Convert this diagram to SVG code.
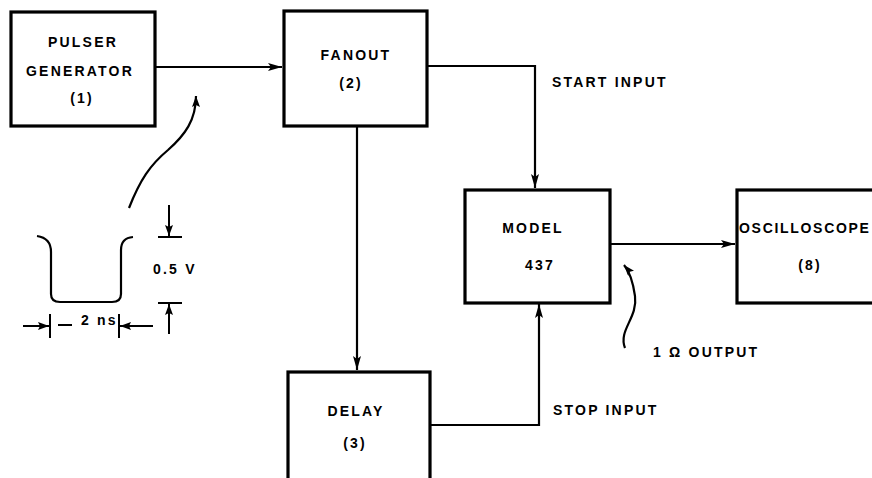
<svg xmlns="http://www.w3.org/2000/svg" width="872" height="478" viewBox="0 0 872 478">
<style>
.box{fill:#fff;stroke:#000;stroke-width:3.2}
.t{font-family:"Liberation Sans",Arial,sans-serif;font-weight:bold;font-size:14px;letter-spacing:2.2px;fill:#000}
.c{text-anchor:middle}
.ln{fill:none;stroke:#000;stroke-width:2.2}
.thin{fill:none;stroke:#000;stroke-width:2}
</style>
<defs>
<marker id="ah" viewBox="0 0 14 8" refX="14" refY="4" markerWidth="14" markerHeight="8" markerUnits="userSpaceOnUse" orient="auto">
<path d="M0,0 L14,4 L0,8 L3,4 Z" fill="#000"/>
</marker>
<marker id="ahs" viewBox="0 0 11 8" refX="11" refY="4" markerWidth="11" markerHeight="8" markerUnits="userSpaceOnUse" orient="auto">
<path d="M0,0 L11,4 L0,8 L2,4 Z" fill="#000"/>
</marker>
</defs>
<rect width="872" height="478" fill="#fff"/>
<g id="connectors">
<path class="ln" d="M155,67 L282,67" marker-end="url(#ah)"/>
<path class="ln" d="M427,66 L535,66 L535,188" marker-end="url(#ah)"/>
<path class="ln" d="M357,126 L357,370" marker-end="url(#ah)"/>
<path class="ln" d="M430,425 L539,425 L539,304" marker-end="url(#ah)"/>
<path class="ln" d="M610,244 L735,244" marker-end="url(#ah)"/>
</g>
<g id="pulser">
<rect class="box" x="11" y="12" width="144" height="114"/>
<text class="t c" x="83" y="47">PULSER</text>
<text class="t c" x="80" y="76">GENERATOR</text>
<text class="t c" x="82" y="103">(1)</text>
</g>
<g id="fanout">
<rect class="box" x="284" y="11" width="143" height="115"/>
<text class="t c" x="356" y="60">FANOUT</text>
<text class="t c" x="351" y="88">(2)</text>
</g>
<g id="model">
<rect class="box" x="465" y="190" width="145" height="113"/>
<text class="t c" x="533" y="233">MODEL</text>
<text class="t c" x="540" y="270">437</text>
</g>
<g id="oscilloscope">
<rect class="box" x="737" y="190" width="145" height="113"/>
<text class="t" x="739" y="233" style="letter-spacing:1.7px">OSCILLOSCOPE</text>
<text class="t c" x="810" y="270">(8)</text>
</g>
<g id="delay">
<rect class="box" x="288" y="372" width="142" height="120"/>
<text class="t c" x="356" y="416">DELAY</text>
<text class="t c" x="355" y="448">(3)</text>
</g>
<g id="labels">
<text class="t" x="552" y="87">START  INPUT</text>
<text class="t" x="553" y="415">STOP  INPUT</text>
<text class="t" x="653" y="357">1 Ω OUTPUT</text>
</g>
<g id="waveform">
<path class="ln" d="M37,236 Q51,238 51,252 L51,294 Q51,302 60,302 L112,302 Q121,302 121,294 L121,250 Q121,238 133,237"/>
<path class="ln" d="M129,208 C140,180 150,165 168,150 C185,135 196,120 196,96" marker-end="url(#ahs)"/>
<path class="thin" d="M169,205 L169,236" marker-end="url(#ahs)"/>
<path class="thin" d="M158,237 L182,237"/>
<text class="t" x="153" y="274">0.5 V</text>
<path class="thin" d="M158,303 L182,303"/>
<path class="thin" d="M169,334 L169,304" marker-end="url(#ahs)"/>
<path class="thin" d="M50,314 L50,338"/>
<path class="thin" d="M23,326 L49,326" marker-end="url(#ahs)"/>
<path class="thin" d="M119,314 L119,338"/>
<path class="thin" d="M153,326 L120,326" marker-end="url(#ahs)"/>
<path class="thin" d="M58,325 L72,325"/>
<text class="t" x="81" y="325">2 ns</text>
</g>
<g id="output-arrow">
<path class="ln" d="M625,348 C618,330 638,318 635,296 C633,282 630,272 624,265" marker-end="url(#ahs)"/>
</g>
</svg>
